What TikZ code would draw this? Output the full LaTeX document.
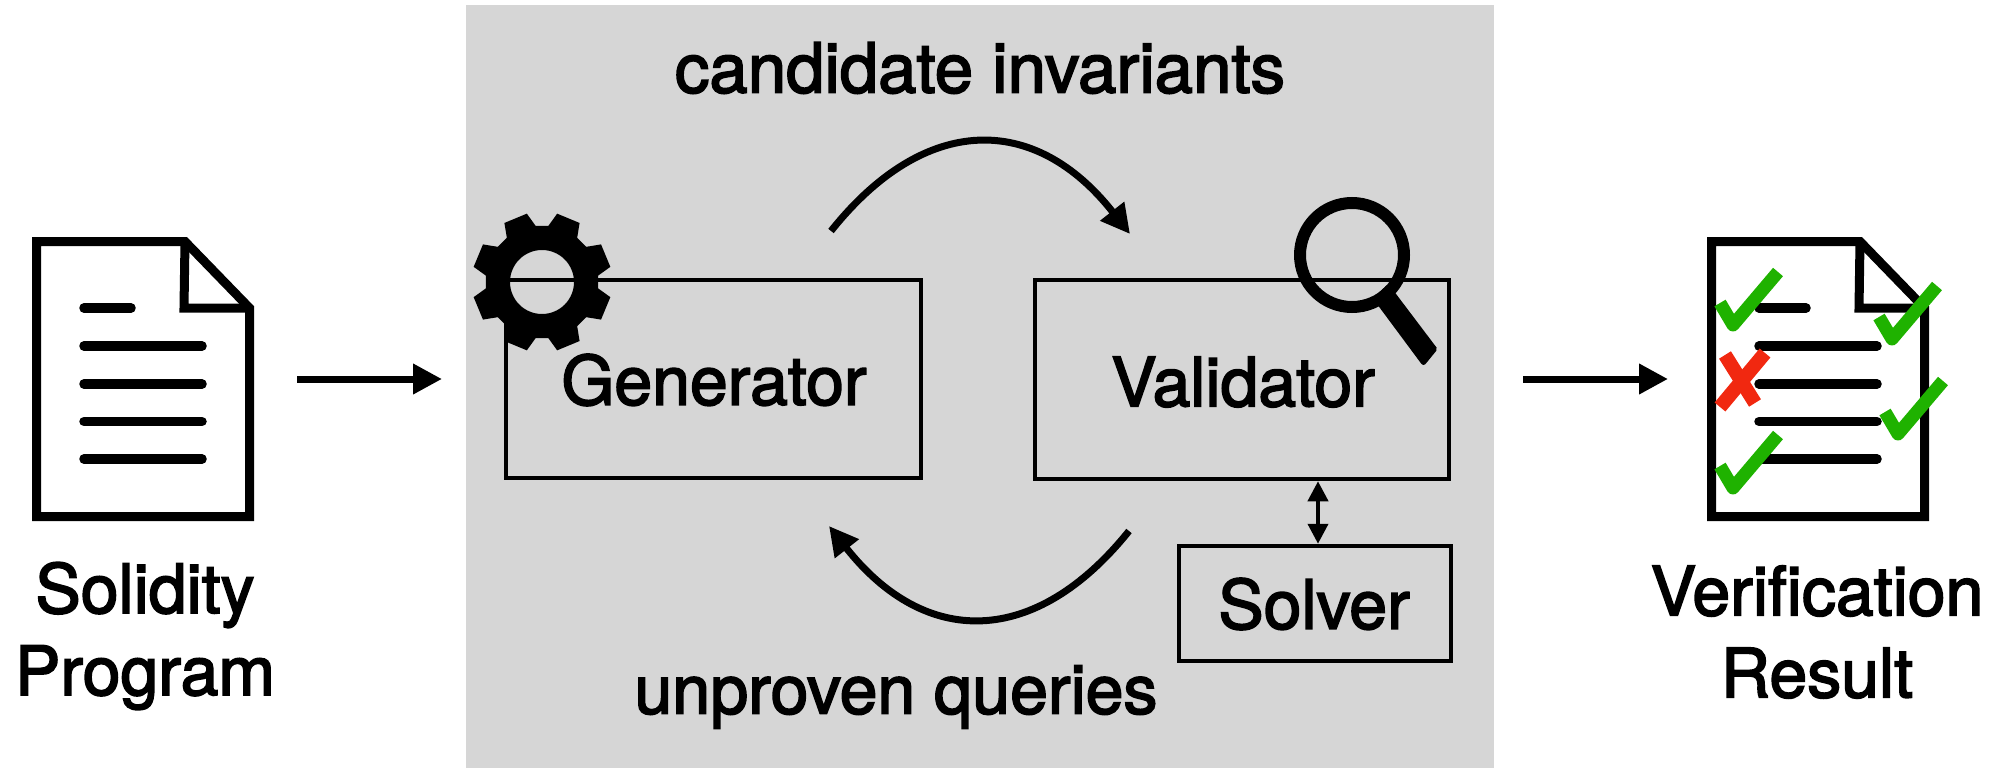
\documentclass[tikz,border=0pt]{standalone}
\usepackage{fontspec}
\setmainfont{TeX Gyre Heros}[FakeBold=2.5]
\usetikzlibrary{arrows.meta}
\definecolor{panelgray}{HTML}{D6D6D6}
\definecolor{tickgreen}{HTML}{1FB200}
\definecolor{crossred}{HTML}{F12810}
\tikzset{
	box/.style={draw=black, line width=4.5pt, inner sep=0pt},
	label/.style={inner sep=0pt, align=center, font=\fontsize{68}{82}\selectfont},
	flow/.style={line width=7pt, -{Triangle[length=29pt, width=29pt]}},
	tick/.style={draw=tickgreen, line width=13pt, line join=round},
	cross/.style={draw=crossred, line width=14pt},
	pics/docpage/.style={code={
		\draw[line width=9pt, miter limit=4] (36.5,241.5) -- (185,241.5) -- (249.5,308) -- (249.5,516.5) -- (36.5,516.5) -- cycle;
		\draw[line width=9pt] (185,241.5) -- (184,308) -- (249.5,308);
		\draw[line width=9.5pt, line cap=round] (84,308) -- (131,308);
		\foreach \y in {346,384,421.5,459}
			\draw[line width=9.5pt, line cap=round] (84,\y) -- (202,\y);
	}}
}
\newcommand{\tickmark}[2]{\draw[tick] (#1-13,#2-22) -- (#1,#2) -- (#1+45,#2-53);}
\begin{document}
\begin{tikzpicture}[x=1pt, y=-1pt]
	\useasboundingbox (0,0) rectangle (1995,768);
	\fill[panelgray] (466,5) rectangle (1494,768);

	% boxes
	\node[box, minimum width=415pt, minimum height=198pt] (gen) at (713.5,379) {};
	\node[box, minimum width=414pt, minimum height=199pt] (val) at (1242,379.5) {};
	\node[box, minimum width=272pt, minimum height=115pt] (sol) at (1315,603.5) {};
	\node[label] (genlabel) at (714,380) {Generator};
	\node[label] (vallabel) at (1243,382) {Validator};
	\node[label] (sollabel) at (1314,604) {Solver};
	\node[label] (candlabel) at (980,68) {\fontsize{69}{82}\selectfont candidate invariants};
	\node[label] (unprovlabel) at (896,697) {unproven queries};
	\node[label] (srclabel) at (145,636) {Solidity\\Program};
	\node[label] (reslabel) at (1817,632) {Verification\\Result};

	% gear
	\begin{scope}[shift={(542,282)}]
		\fill[black, even odd rule] (6.5:56.5)
			\foreach \a in {22.5,67.5,...,337.5} {
				-- (\a-16:56.5) -- (\a-10:70) -- (\a+10:70) -- (\a+16:56.5)
			} -- cycle
			(0,0) circle (32);
	\end{scope}

	% magnifier
	\draw[line width=12pt] (1352,255) circle (52);
	\fill[black, draw=black, line width=5pt, line join=round] (1376,298.5) -- (1388,287.5) -- (1434.5,349) -- (1423.5,362.5) -- cycle;

	% arrows
	\coordinate (srcout) at (297,379);
	\coordinate (genin) at (442,379);
	\coordinate (valout) at (1523,379);
	\coordinate (resin) at (1668,379);
	\coordinate (candfrom) at (831,231);
	\coordinate (candto) at (1130,234);
	\coordinate (unprovfrom) at (1129,531);
	\coordinate (unprovto) at (829,526);
	\draw[flow] (srcout) -- (genin);
	\draw[flow] (valout) -- (resin);
	\draw[flow] (candfrom) .. controls (925,113) and (1035,113) .. (candto);
	\draw[flow] (unprovfrom) .. controls (1035,648) and (925,648) .. (unprovto);
	\draw[line width=4pt, {Triangle[length=20pt, width=20pt]}-{Triangle[length=20pt, width=20pt]}] ([xshift=3pt]sol.north |- val.south) -- ([xshift=3pt]sol.north);

	% documents
	\pic (srcdoc) at (0,0) {docpage};
	\pic (resdoc) at (1675,0) {docpage};
	\tickmark{1733}{325}
	\tickmark{1892}{339}
	\tickmark{1898}{434}
	\tickmark{1733}{488}
	\draw[cross] (1725,355) -- (1755,403);
	\draw[cross] (1765,353) -- (1720,407);
\end{tikzpicture}
\end{document}
